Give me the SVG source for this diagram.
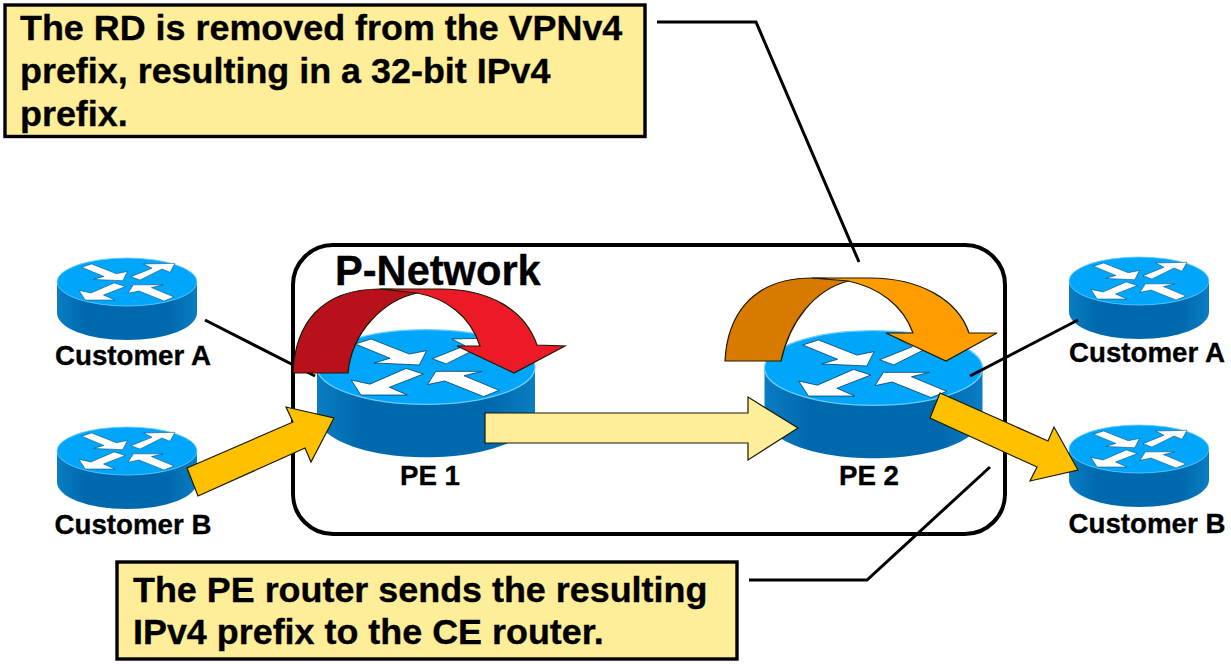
<svg xmlns="http://www.w3.org/2000/svg" width="1231" height="664" viewBox="0 0 1231 664">
<style>
text{font-family:"Liberation Sans",Arial,sans-serif;font-weight:700;fill:#000;stroke:#000;stroke-width:.35}
.callout{font-size:35.9px}
.label{font-size:27.700px;text-anchor:middle}
.box{fill:#FFEE99;stroke:#000;stroke-width:3.400}
.line{fill:none;stroke:#000;stroke-width:3}
.arrow{stroke:#1a1a00;stroke-width:1.2;stroke-linejoin:miter}
.w{fill:#fff;stroke:#003a66;stroke-width:.5}
</style>
<defs>
<linearGradient id="side" x1="0" x2="1" y1="0" y2="0">
<stop offset="0" stop-color="#0A7DC2"/><stop offset=".2" stop-color="#0069AE"/><stop offset=".8" stop-color="#0069AE"/><stop offset="1" stop-color="#0A7DC2"/>
</linearGradient>
<symbol id="router" overflow="visible">
<path d="M-70,0V31C-70,46-39,58,0,58S70,46,70,31V0Z" fill="url(#side)"/>
<ellipse rx="70" ry="24" fill="#00A6FA" stroke="#6CCBFF" stroke-width=".8"/>
<path class="w" d="M-45.4-14.8L-35.3-18L-10.7-8.3L.4-10.5L-4.3-1.3L-33.2-2.6L-23.1-5.6Z"/>
<path class="w" d="M4-5.3L25-13.7L16.7-18L48-18.7L43-9.7L35-13L13-2Z"/>
<path class="w" d="M-48,8.4L-36,11L-12.8,.9L-1.7,4.5L-23.5,13L-12,18L-41.8,18Z"/>
<path class="w" d="M1,11.3L6.4,2.8L36,2.8L24.4,5.6L47,15L37,19L12,9Z"/>
</symbol>
</defs>
<rect width="1231" height="664" fill="#fff"/>
<g id="p-network">
<rect x="293" y="245" width="712" height="289" rx="40" fill="#fff" stroke="#000" stroke-width="4"/>
<text x="335" y="285" font-size="41.600">P-Network</text>
</g>
<g id="customer-a-left"><use href="#router" x="127" y="282"/><text class="label" x="133" y="365">Customer A</text></g>
<g id="customer-b-left"><use href="#router" x="127" y="451"/><text class="label" x="133" y="534">Customer B</text></g>
<g id="customer-a-right"><use href="#router" x="1139" y="281"/><text class="label" x="1147" y="362">Customer A</text></g>
<g id="customer-b-right"><use href="#router" x="1139" y="449"/><text class="label" x="1147" y="533">Customer B</text></g>
<g id="pe1"><use href="#router" transform="translate(426,367) scale(1.557)"/><text class="label" x="430" y="485">PE 1</text></g>
<g id="pe2"><use href="#router" transform="translate(873.500,368) scale(1.557)"/><text class="label" x="869" y="485">PE 2</text></g>
<g id="connectors">
<path class="line" d="M205,320L315,376"/>
<path class="line" d="M970,376L1078,320"/>
<path class="line" d="M657,22H756L859,262"/>
<path class="line" d="M749,580H867L990,467"/>
<path class="arrow" fill="#FFC000" d="M187,468L293,422L286,407L334,418L311,462L305,448L198,496Z"/>
<path class="arrow" fill="#FFEE99" d="M485,413H748V397L798,428L748,460V443H485Z"/>
<path class="arrow" fill="#FFC000" d="M940,393L1048,441L1054,427L1078,470L1030,481L1037,467L930,418Z"/>
<path class="arrow" fill="#B9111C" d="M293,373C295,325 320,289 380,289Q405,289 417,293C385,300 352,330 348,373Z"/>
<path class="arrow" fill="#EB1A26" d="M380,289L440,289C490,289 525,310 537,345L565,346L514,373L457,346L480,346C470,315 445,298 417,293Z"/>
<path class="arrow" fill="#D87A00" d="M725,361C727,318 750,278 812,278Q838,278 848,281C815,290 790,320 781,361Z"/>
<path class="arrow" fill="#FF9C00" d="M812,278L870,278C920,278 958,300 969,333L997,333L946,361L886,333L913,333C903,305 878,287 848,281Z"/>
</g>
<g id="note-top">
<rect class="box" x="5" y="5" width="640" height="131.500"/>
<text class="callout" x="20" y="40">The RD is removed from the VPNv4</text>
<text class="callout" x="20" y="83">prefix, resulting in a 32-bit IPv4</text>
<text class="callout" x="20" y="126">prefix.</text>
</g>
<g id="note-bottom">
<rect class="box" x="117" y="562" width="620" height="97"/>
<text class="callout" x="133" y="602">The PE router sends the resulting</text>
<text class="callout" x="133" y="644">IPv4 prefix to the CE router.</text>
</g>
</svg>
